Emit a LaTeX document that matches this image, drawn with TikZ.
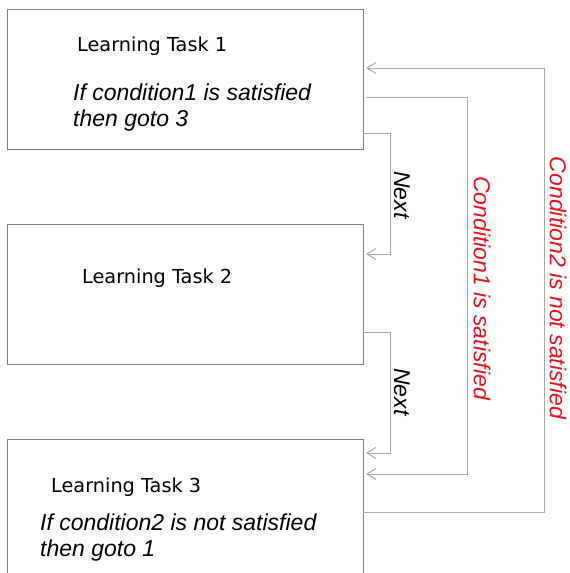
\documentclass[tikz,border=0pt]{standalone}
\usepackage{fontspec}
\newfontfamily\dejavu{DejaVu Sans}
\newfontfamily\arial{Liberation Sans}
\usetikzlibrary{arrows.meta}
\definecolor{boxline}{HTML}{7A7A7A}
\definecolor{connline}{HTML}{A8A8A8}
\definecolor{labred}{HTML}{E8141B}
\begin{document}
\begin{tikzpicture}[x=1pt,y=-1pt,
  taskbox/.style={draw=boxline, line width=1pt, minimum width=356pt, minimum height=140pt, anchor=north west, inner sep=0pt, outer sep=0pt},
  bigbox/.style={taskbox, minimum height=170pt},
  title/.style={font=\dejavu\fontsize{19.3}{22}\selectfont, anchor=base west, inner sep=0pt},
  cond/.style={font=\arial\itshape\fontsize{23}{26}\selectfont, anchor=base west, inner sep=0pt},
  conn/.style={draw=connline, line width=1pt, -{Straight Barb[length=9pt, width=11pt, line width=1pt]}},
  nextlab/.style={font=\arial\itshape\fontsize{23}{26}\selectfont, rotate=-90, inner sep=0pt},
  redlab/.style={nextlab, text=labred}]
\useasboundingbox (0,0) rectangle (570,573);
\clip (0,0) rectangle (570,573);
\fill[white] (0,0) rectangle (570,573);

\node[taskbox] (b1) at (7,9) {};
\node[taskbox] (b2) at (7,224) {};
\node[bigbox] (b3) at (7,439) {};

\node[title] (t1) at (77,51.5) {Learning Task 1};
\node[cond] (c1a) at (73,100) {If condition1 is satisfied};
\node[cond] (c1b) at (73,126.5) {then goto 3};
\node[title] (t2) at (82,283) {Learning Task 2};
\node[title] (t3) at (51,492.5) {Learning Task 3};
\node[cond] (c3a) at (40,530) {If condition2 is not satisfied};
\node[cond] (c3b) at (40,556.5) {then goto 1};

% Next 1 -> 2
\draw[conn] ([yshift=16pt]b1.south east) -- ++(27,0) |- ([xshift=3pt,yshift=-30pt]b2.north east);
% Next 2 -> 3
\draw[conn] ([yshift=32pt]b2.south east) -- ++(27,0) |- ([xshift=3pt,yshift=-14pt]b3.north east);
% condition1 satisfied: 1 -> 3
\draw[conn] ([xshift=3pt,yshift=-88pt]b1.north east) -- ++(101,0) |- ([xshift=3pt,yshift=-35pt]b3.north east);
% condition2 not satisfied: 3 -> 1
\draw[conn] ([yshift=-73pt]b3.north east) -- ++(181,0) |- ([xshift=3pt,yshift=-59pt]b1.north east);

\node[nextlab] (n1) at (402,195) {Next};
\node[nextlab] (n2) at (402,392) {Next};
\node[redlab] (r1) at (482,288) {Condition1 is satisfied};
\node[redlab] (r2) at (558,288) {Condition2 is not satisfied};
\end{tikzpicture}
\end{document}
